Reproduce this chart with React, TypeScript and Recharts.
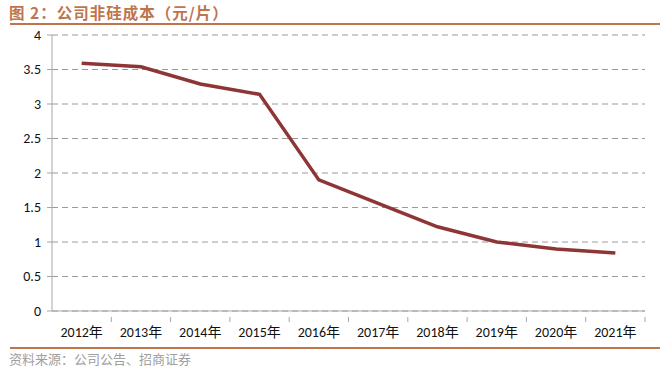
import { LineChart, Line, XAxis, YAxis, CartesianGrid } from "recharts";

const YEARS = [
  "2012年",
  "2013年",
  "2014年",
  "2015年",
  "2016年",
  "2017年",
  "2018年",
  "2019年",
  "2020年",
  "2021年",
];
const COST = [3.59, 3.54, 3.29, 3.14, 1.9, 1.56, 1.22, 1.0, 0.9, 0.84];
const Y_TICKS = [0, 0.5, 1, 1.5, 2, 2.5, 3, 3.5, 4];

const ACCENT = "#c0744c";
const FONT = "Calibri, Carlito, 'Noto Sans CJK SC', sans-serif";

const MARGIN = { top: 35, right: 23, bottom: 31, left: 12 };
const Y_WIDTH = 40;
const BAND = (668 - MARGIN.left - MARGIN.right - Y_WIDTH) / YEARS.length;

const data = YEARS.map((year, i) => ({ year, cost: COST[i] }));

// category label plus a tick mark on the right band boundary
function YearTick(props: any) {
  const { x, y, payload } = props;
  const bx = x + BAND / 2;
  const axisY = y - 10;
  return (
    <g>
      <line x1={bx} x2={bx} y1={axisY} y2={axisY + 5} stroke="#a6a6a6" />
      <text
        x={x}
        y={y}
        dy="0.71em"
        textAnchor="middle"
        fill="#111"
        fontSize={14}
        fontFamily={FONT}
      >
        {payload.value}
      </text>
    </g>
  );
}

export default function App() {
  return (
    <div
      style={{
        position: "absolute",
        left: 0,
        top: 0,
        width: 668,
        height: 372,
        background: "#fff",
        fontFamily: FONT,
      }}
    >
      <div
        style={{
          position: "absolute",
          left: 9,
          top: 2,
          fontSize: 15.5,
          fontWeight: 700,
          color: ACCENT,
          fontFamily: "'Noto Sans CJK SC', sans-serif",
          lineHeight: "20px",
          letterSpacing: 1,
        }}
      >
        图 2：公司非硅成本（元/片）
      </div>
      <div
        style={{
          position: "absolute",
          left: 10,
          top: 23,
          width: 650,
          height: 2,
          background: ACCENT,
        }}
      />
      <LineChart
        width={668}
        height={372}
        data={data}
        margin={MARGIN}
        style={{ position: "absolute", left: 0, top: 0 }}
      >
        <CartesianGrid
          vertical={false}
          stroke="#9a9a9a"
          strokeDasharray="6 4"
        />
        <XAxis
          dataKey="year"
          scale="band"
          axisLine={{ stroke: "#a6a6a6" }}
          tickLine={false}
          tick={<YearTick />}
          tickMargin={10}
          height={30}
          interval={0}
        />
        <YAxis
          domain={[0, 4]}
          ticks={Y_TICKS}
          width={Y_WIDTH}
          axisLine={{ stroke: "#a6a6a6" }}
          tickLine={{ stroke: "#a6a6a6" }}
          tickSize={5}
          tick={{ fill: "#111", fontSize: 14, fontFamily: FONT }}
          tickMargin={6}
        />
        <Line
          type="linear"
          dataKey="cost"
          stroke="#8e3535"
          strokeWidth={3.5}
          dot={false}
          isAnimationActive={false}
        />
      </LineChart>
      <div
        style={{
          position: "absolute",
          left: 10,
          top: 347,
          width: 650,
          height: 2,
          background: ACCENT,
        }}
      />
      <div
        style={{
          position: "absolute",
          left: 9,
          top: 350,
          fontSize: 13,
          color: "#a0a0a0",
          fontFamily: "'Noto Sans CJK SC', sans-serif",
          lineHeight: "18px",
        }}
      >
        资料来源：公司公告、招商证券
      </div>
    </div>
  );
}
